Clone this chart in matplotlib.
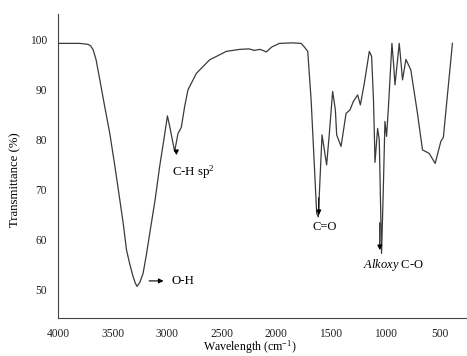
import matplotlib
matplotlib.use("Agg")
import matplotlib.pyplot as plt

plt.rcParams.update({"font.family": "Liberation Serif", "font.size": 8.3,
                     "mathtext.fontset": "custom",
                     "mathtext.rm": "Liberation Serif",
                     "mathtext.it": "Liberation Serif:italic"})

# FTIR spectrum
wavenumber = [4000, 3800, 3723, 3700, 3677, 3650, 3616, 3570, 3525, 3480,
              3433, 3400, 3372, 3340, 3312, 3290, 3275, 3250, 3220, 3190,
              3159, 3110, 3068, 3030, 2997, 2976, 2952, 2931, 2900, 2870,
              2839, 2809, 2732, 2611, 2458, 2336, 2250, 2200, 2150, 2123,
              2092, 2040, 1971, 1850, 1772, 1740, 1712, 1681, 1651, 1630,
              1615, 1600, 1581, 1560, 1539, 1514, 1484, 1459, 1447, 1407,
              1361, 1325, 1294, 1255, 1230, 1194, 1148, 1127, 1110, 1102,
              1096, 1072, 1057, 1036, 1020, 1005, 990, 971, 941, 925,
              913, 874, 860, 844, 813, 768, 707, 661, 600, 545,
              493, 470, 387]
transmittance = [99.3, 99.3, 99.1, 98.8, 98.0, 96.0, 92.0, 86.5, 81.3, 75.0,
                 68.0, 63.0, 58.0, 55.0, 52.7, 51.3, 50.7, 51.5, 53.3, 57.0,
                 61.3, 68.0, 74.7, 80.0, 84.8, 82.7, 80.0, 77.7, 81.3, 82.5,
                 86.7, 90.0, 93.3, 96.0, 97.7, 98.1, 98.2, 97.9, 98.1, 97.9,
                 97.6, 98.6, 99.3, 99.4, 99.3, 98.5, 97.7, 88.0, 74.7, 65.3,
                 64.6, 72.0, 81.0, 78.0, 75.0, 81.3, 89.7, 86.0, 81.0, 78.7,
                 85.3, 86.0, 87.7, 89.0, 87.0, 91.3, 97.7, 96.7, 88.0, 81.3,
                 75.5, 82.3, 80.0, 57.3, 70.0, 83.7, 80.7, 87.3, 99.3, 95.0,
                 91.0, 99.3, 96.0, 92.0, 96.1, 94.0, 85.3, 78.0, 77.3, 75.3,
                 79.7, 80.5, 99.3]

fig = plt.figure(figsize=(4.67, 3.56), dpi=100)
ax = fig.add_axes([0.124, 0.107, 0.874, 0.854])
ax.plot(wavenumber, transmittance, color="#3a3a3a", lw=0.9)

ax.set_xlim(4000, 262)
ax.set_ylim(44.4, 105.2)
ax.set_xticks([4000, 3500, 3000, 2500, 2000, 1500, 1000, 500])
ax.set_yticks([50, 60, 70, 80, 90, 100])
ax.tick_params(axis="both", length=0, labelsize=8.3, labelcolor="#222222")
ax.tick_params(axis="y", pad=8)
ax.tick_params(axis="x", pad=7)
ax.spines["top"].set_visible(False)
ax.spines["right"].set_visible(False)
for s in ("left", "bottom"):
    ax.spines[s].set_color("#444444")
ax.set_xlabel("Wavelength (cm$^{-1}$)", fontsize=8.6)
ax.xaxis.set_label_coords(0.469, -0.068)
ax.set_ylabel("Transmittance (%)", fontsize=9.2)
ax.yaxis.set_label_coords(-0.09, 0.454)

arrow = dict(arrowstyle="-|>", color="black", lw=0.8, mutation_scale=7)
ax.annotate("", xy=(2915, 76.4), xytext=(2915, 78.4), arrowprops=arrow)
ax.text(2958, 73.6, "C-H sp$^2$", ha="left", va="center", fontsize=9.3)
ax.annotate("", xy=(3007, 51.8), xytext=(3190, 51.8), arrowprops=arrow)
ax.text(2958, 51.8, "O-H", ha="left", va="center", fontsize=9.3)
ax.annotate("", xy=(1610, 64.4), xytext=(1612, 69), arrowprops=arrow)
ax.text(1559, 62.6, "C=O", ha="center", va="center", fontsize=9)
ax.annotate("", xy=(1052, 57.4), xytext=(1052, 64), arrowprops=arrow)
ax.text(924, 55.0, "$\\it{Alkoxy}$ C-O", ha="center", va="center", fontsize=9)

fig.savefig("out.png", dpi=100)
